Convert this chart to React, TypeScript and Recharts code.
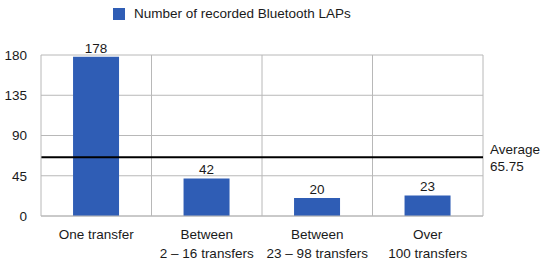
import React from 'react'
import {
  BarChart,
  Bar,
  XAxis,
  YAxis,
  CartesianGrid,
  ReferenceLine,
  LabelList
} from 'recharts'

const categories = [
  'One transfer',
  'Between\n2 – 16 transfers',
  'Between\n23 – 98 transfers',
  'Over\n100 transfers'
]
const lapCounts = [178, 42, 20, 23]
const yTicks = [0, 45, 90, 135, 180]
const averageValue = 65.75
const seriesName = 'Number of recorded Bluetooth LAPs'

const data = categories.map((name, i) => ({ name, value: lapCounts[i] }))

const FONT = '"Liberation Sans", Arial, sans-serif'
const FONT_SIZE = 13.5
const BAR_COLOR = '#2f5db5'
const GRID_COLOR = '#b8b8b8'
const TEXT_COLOR = '#1a1a1a'

const CategoryTick = ({ x, y, payload }: any) => {
  const lines = String(payload.value).split('\n')
  return (
    <text x={x} y={y} textAnchor="middle" fill={TEXT_COLOR} fontSize={FONT_SIZE} fontFamily={FONT}>
      {lines.map((line, i) => (
        <tspan key={i} x={x} dy={i === 0 ? 15 : 19}>
          {line}
        </tspan>
      ))}
    </text>
  )
}

const AverageLabel = ({ viewBox }: any) => {
  const x = viewBox.x + viewBox.width + 7
  const y = viewBox.y
  return (
    <text x={x} y={y} fill={TEXT_COLOR} fontSize={FONT_SIZE} fontFamily={FONT}>
      <tspan x={x} dy={-3}>Average</tspan>
      <tspan x={x} dy={17}>{averageValue}</tspan>
    </text>
  )
}

export default function App() {
  return (
    <div style={{ position: 'absolute', left: 0, top: 0, width: 550, height: 262, background: '#fff' }}>
      <div
        style={{
          position: 'absolute',
          left: 113,
          top: 6,
          display: 'flex',
          alignItems: 'center',
          fontFamily: FONT,
          fontSize: FONT_SIZE,
          color: TEXT_COLOR
        }}
      >
        <span style={{ width: 12, height: 12, background: BAR_COLOR, display: 'inline-block', marginRight: 9 }} />
        {seriesName}
      </div>
      <BarChart
        width={550}
        height={262}
        data={data}
        margin={{ top: 55, right: 67, left: 8, bottom: 16 }}
        barCategoryGap="29%"
      >
        <CartesianGrid
          stroke={GRID_COLOR}
          verticalCoordinatesGenerator={({ offset }: any) =>
            categories.map((_, i) => offset.left + ((i + 1) * offset.width) / categories.length)
          }
        />
        <XAxis
          dataKey="name"
          interval={0}
          tick={<CategoryTick />}
          tickLine={false}
          axisLine={{ stroke: GRID_COLOR }}
        />
        <YAxis
          domain={[0, 180]}
          ticks={yTicks}
          width={33}
          tickLine={false}
          axisLine={{ stroke: GRID_COLOR }}
          tickSize={6}
          tickMargin={8}
          tick={{ fill: TEXT_COLOR, fontSize: FONT_SIZE, fontFamily: FONT }}
        />
        <Bar dataKey="value" fill={BAR_COLOR} isAnimationActive={false}>
          <LabelList dataKey="value" position="top" fill={TEXT_COLOR} fontSize={FONT_SIZE} fontFamily={FONT} offset={4} />
        </Bar>
        <ReferenceLine y={averageValue} stroke="#000" strokeWidth={2} label={<AverageLabel />} />
      </BarChart>
    </div>
  )
}
